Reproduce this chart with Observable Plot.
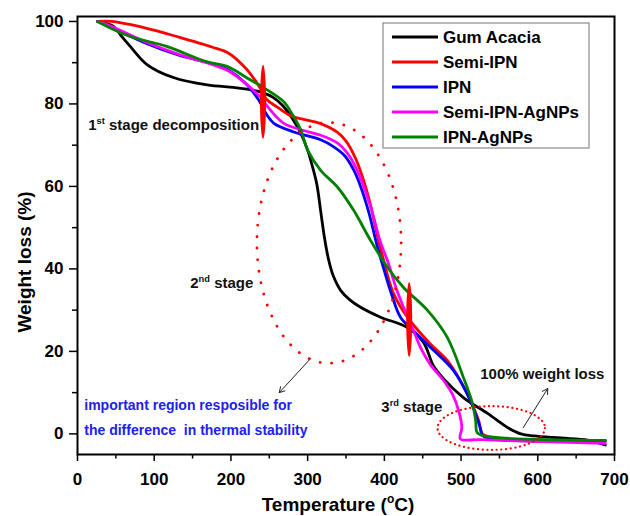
<!DOCTYPE html>
<html><head><meta charset="utf-8">
<script src="https://cdn.jsdelivr.net/npm/d3@7"></script>
<script src="https://cdn.jsdelivr.net/npm/@observablehq/plot@0.6"></script>
<style>
body{margin:0;background:#fff;}
#chart svg{display:block;}
</style>
</head><body><div id="chart"></div>
<script>
const seriesNames = ["Gum Acacia", "Semi-IPN", "IPN", "Semi-IPN-AgNPs", "IPN-AgNPs"];
const seriesColors = ["#000000", "#ff0000", "#0000ff", "#ff00ff", "#008000"];

const gumT = [26, 47, 57, 69, 91, 125, 169, 203, 221, 240, 255, 268, 280, 291, 300, 306, 312, 317, 322, 327, 333, 343, 355, 369, 395, 430, 451, 464, 477, 503, 535, 561, 578, 595, 630, 665, 688];
const gumW = [100, 98.8, 96.5, 93.9, 89.5, 86.4, 84.6, 84, 83.6, 82.8, 81.6, 79.5, 76.5, 72.9, 68.8, 65, 60.5, 54, 47.5, 42.5, 38.5, 34.8, 32.5, 30.7, 28.3, 25.8, 22.2, 16.5, 13.4, 8.8, 4.9, 1.5, 0, -0.5, -1.0, -1.5, -2.7];

const semiT = [26, 44, 89, 132, 175, 197, 219, 236, 247, 260, 277, 296, 316, 339, 350, 362, 372, 382, 391, 399, 412, 430, 460, 482, 499, 512, 523, 528, 545, 688];
const semiW = [100, 100, 98.4, 96.2, 93.8, 92.3, 88.7, 84.5, 81, 79.3, 77.2, 76.2, 75.3, 73.1, 71, 67, 62, 55.5, 48, 42.1, 34.0, 28.3, 21.8, 17.8, 12.9, 8.1, 3.2, 0, -1.0, -1.8];

const ipnT = [26, 44, 89, 132, 175, 197, 219, 236, 247, 256, 282, 317, 334, 348, 360, 370, 380, 390, 400, 410, 421, 438, 460, 490, 512, 525, 528, 545, 688];
const ipnW = [100, 98.6, 94.7, 91.8, 89.8, 88.2, 85, 81, 77.3, 75.3, 73.2, 71.3, 69.6, 67.5, 64, 59.5, 53.5, 46, 39.5, 33.5, 28.3, 25, 21, 15.4, 8.1, 1.5, -0.4, -1.3, -1.6];

const semiAgT = [26, 44, 89, 132, 175, 197, 219, 238, 252, 269, 290, 317, 339, 352, 363, 373, 383, 395, 405, 415, 425, 438, 447, 460, 477, 489, 497, 501, 499, 525, 688];
const semiAgW = [100, 98.8, 95, 92, 89.6, 88, 85, 81.7, 78.4, 75.3, 73.8, 72.4, 70.5, 68, 64.5, 60, 54.5, 46.5, 41.5, 35.5, 30.7, 25, 21, 16.8, 13, 9.5, 5.5, 1.5, -1.2, -1.4, -2.3];

const ipnAgT = [26, 65, 117, 169, 195, 221, 243, 269, 280, 291, 300, 317, 339, 360, 382, 404, 425, 456, 482, 503, 515, 519, 521, 530, 688];
const ipnAgW = [100, 96.6, 93.9, 90.2, 89.1, 86.3, 83.9, 80.5, 77.5, 73.7, 68.8, 63.9, 59.8, 54.2, 46.9, 40.4, 35.5, 30, 23.4, 13.7, 7.3, 3.2, 0.3, -0.5, -1.6];

const xTicks = [0, 100, 200, 300, 400, 500, 600, 700];
const xMinor = [50, 150, 250, 350, 450, 550, 650];
const yTicks = [0, 20, 40, 60, 80, 100];
const yMinor = [10, 30, 50, 70, 90];

// annotations
const noteText = ["1st stage decomposition", "2nd stage", "3rd stage", "100% weight loss"];
const noteT = [14, 147, 396, 525];
const noteW = [73.7, 35.3, 5.2, 13.4];
const blueText = ["important region resposible for", "the difference  in thermal stability"];
const blueT = [8.8, 8.8];
const blueW = [5.9, -0.2];
const arrowFromT = [304, 581];
const arrowFromW = [18.3, 1.5];
const arrowToT = [263, 613];
const arrowToW = [10, 11];
// dotted ellipses: centre and radii in data units
const ringT = [328.5, 540];
const ringW = [46.2, 1.3];
const ringRT = [94, 70];
const ringRW = [29.2, 5.3];
// filled red markers
const markT = [242.5, 433];
const markW = [80.4, 27.6];
const markRW = [9, 9.1];

const allT = [gumT, semiT, ipnT, semiAgT, ipnAgT];
const allW = [gumW, semiW, ipnW, semiAgW, ipnAgW];
const rows = [];
seriesNames.forEach((s, i) => allT[i].forEach((t, j) => rows.push({series: s, T: t, W: allW[i][j]})));

const notes = noteText.map((t, i) => ({t, x: noteT[i], y: noteW[i]}));
const blueNotes = blueText.map((t, i) => ({t, x: blueT[i], y: blueW[i]}));
const arrows = arrowFromT.map((t, i) => ({x1: t, y1: arrowFromW[i], x2: arrowToT[i], y2: arrowToW[i]}));

const FONT = "'Liberation Sans', Arial, Helvetica, sans-serif";

const plot = Plot.plot({
  width: 630, height: 516,
  marginLeft: 77, marginRight: 16, marginTop: 16, marginBottom: 62,
  style: {fontFamily: FONT, fontWeight: "bold", background: "white", color: "black"},
  x: {domain: [0, 700]},
  y: {domain: [-5, 101.2]},
  color: {domain: seriesNames, range: seriesColors},
  marks: [
    Plot.axisX({ticks: xMinor, tickSize: 4.5, tickFormat: () => "", strokeWidth: 1.5, label: null}),
    Plot.axisX({ticks: xTicks, tickSize: 7, tickPadding: 11, fontSize: 17, strokeWidth: 1.5, label: null, tickFormat: d => String(d)}),
    Plot.axisY({ticks: yMinor, tickSize: 5, tickFormat: () => "", strokeWidth: 1.5, label: null}),
    Plot.axisY({ticks: yTicks, tickSize: 8, tickPadding: 6, fontSize: 17, strokeWidth: 1.5, label: null, tickFormat: d => String(d)}),
    Plot.line(rows, {x: "T", y: "W", z: "series", stroke: "series", strokeWidth: 2.8, curve: "catmull-rom"}),
    Plot.arrow(arrows, {x1: "x1", y1: "y1", x2: "x2", y2: "y2", stroke: "#222", strokeWidth: 1, headLength: 9}),
    Plot.text(notes, {x: "x", y: "y", text: "t", textAnchor: "start", lineAnchor: "bottom", fontSize: 15, fill: "#111"}),
    Plot.text(blueNotes, {x: "x", y: "y", text: "t", textAnchor: "start", lineAnchor: "bottom", fontSize: 14, fill: "#2020f0"}),
    Plot.frame({stroke: "black", strokeWidth: 2})
  ]
});

document.getElementById("chart").appendChild(plot);
const svg = d3.select(plot);
const xs = plot.scale("x"), ys = plot.scale("y");
const X = v => xs.apply(v), Y = v => ys.apply(v);

// superscripts & whitespace
svg.selectAll("text").each(function() {
  const s = this.textContent;
  const m = s.match(/^(\d+)(st|nd|rd)( .*)$/);
  if (m && this.children.length === 0) {
    const f = 15;
    const el = d3.select(this);
    el.text(null);
    el.append("tspan").text(m[1]);
    el.append("tspan").attr("dy", -0.42 * f).attr("font-size", 0.62 * f).text(m[2]);
    el.append("tspan").attr("dy", 0.42 * f).text(m[3]);
  }
  if (s.includes("  ")) d3.select(this).style("white-space", "pre");
});

// dotted ellipses and red markers
const ann = svg.append("g");
ringT.forEach((t, i) => {
  const cx = X(t), cy = Y(ringW[i]);
  const rx = Math.abs(X(t + ringRT[i]) - cx), ry = Math.abs(Y(ringW[i] + ringRW[i]) - cy);
  ann.append("ellipse").attr("cx", cx).attr("cy", cy).attr("rx", rx).attr("ry", ry)
    .style("fill", "none").style("stroke", "#ff0000")
    .style("stroke-width", i === 0 ? 2.8 : 2.2).style("stroke-linecap", "round")
    .style("stroke-dasharray", i === 0 ? "0.1 11.5" : "0.1 4.6");
});
markT.forEach((t, i) => {
  const cx = X(t), cy = Y(markW[i]);
  const ry = Math.abs(Y(markW[i] + markRW[i]) - cy);
  ann.append("ellipse").attr("cx", cx).attr("cy", cy).attr("rx", 3).attr("ry", ry).style("fill", "#ff0000");
});

// axis titles
svg.append("text").attr("x", 338).attr("y", 511).attr("text-anchor", "middle")
  .attr("font-size", 19).attr("font-weight", "bold").attr("font-family", FONT)
  .call(t => {
    t.append("tspan").text("Temperature (");
    t.append("tspan").attr("dy", -8).attr("font-size", 12).text("o");
    t.append("tspan").attr("dy", 8).text("C)");
  });
svg.append("text").attr("transform", "translate(31,262) rotate(-90)").attr("text-anchor", "middle")
  .attr("font-size", 19).attr("font-weight", "bold").attr("font-family", FONT).text("Weight loss (%)");

// legend
const lg = svg.append("g").attr("font-family", FONT).attr("font-weight", "bold").attr("font-size", 17).attr("text-anchor", "start");
lg.append("rect").attr("x", 383).attr("y", 23).attr("width", 206).attr("height", 125)
  .style("fill", "white").style("stroke", "#8a8a8a").style("stroke-width", "1.2px");
seriesNames.forEach((s, i) => {
  const y = 37 + i * 25;
  lg.append("line").attr("x1", 392).attr("x2", 438).attr("y1", y).attr("y2", y)
    .style("stroke", seriesColors[i]).style("stroke-width", "3px");
  lg.append("text").attr("x", 443).attr("y", y).attr("dy", "0.35em").attr("text-anchor", "start").style("fill", "black").text(s);
});
</script>
</body></html>
